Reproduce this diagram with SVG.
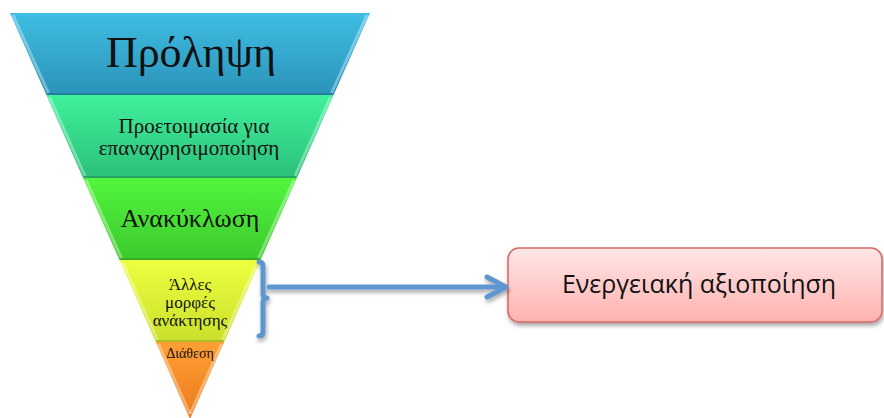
<svg xmlns="http://www.w3.org/2000/svg" width="884" height="418" viewBox="0 0 884 418">
<defs>
<linearGradient id="gBlue" x1="0" y1="0" x2="0" y2="1"><stop offset="0" stop-color="#3fbde3"/><stop offset="1" stop-color="#2b93b9"/></linearGradient>
<linearGradient id="gTeal" x1="0" y1="0" x2="0" y2="1"><stop offset="0" stop-color="#3ff09a"/><stop offset="1" stop-color="#2bc07a"/></linearGradient>
<linearGradient id="gGreen" x1="0" y1="0" x2="0" y2="1"><stop offset="0" stop-color="#52f53e"/><stop offset="1" stop-color="#3cc92c"/></linearGradient>
<linearGradient id="gYellow" x1="0" y1="0" x2="0" y2="1"><stop offset="0" stop-color="#eeff40"/><stop offset="1" stop-color="#c9df2a"/></linearGradient>
<linearGradient id="gOrange" x1="0" y1="0" x2="0" y2="1"><stop offset="0" stop-color="#ffa035"/><stop offset="1" stop-color="#ea7a1c"/></linearGradient>
<linearGradient id="gBox" x1="0" y1="0" x2="0" y2="1"><stop offset="0" stop-color="#ffe6e6"/><stop offset="1" stop-color="#ffb2b0"/></linearGradient>
<filter id="sh" filterUnits="userSpaceOnUse" x="0" y="0" width="884" height="418"><feGaussianBlur in="SourceAlpha" stdDeviation="2"/><feOffset dx="1" dy="3"/><feComponentTransfer><feFuncA type="linear" slope="0.35"/></feComponentTransfer><feMerge><feMergeNode/><feMergeNode in="SourceGraphic"/></feMerge></filter>
</defs>
<style>
.band{stroke:none}
.hl{fill:none;stroke:#ffffff;stroke-opacity:0.35;stroke-width:3}
.bot{stroke:#000;stroke-opacity:0.15;stroke-width:2}
.serif{font-family:"Liberation Serif","Times New Roman",serif;fill:#111;text-anchor:middle}
.conn{fill:none;stroke:#5f96cf;stroke-width:5;stroke-linecap:round;stroke-linejoin:round}
</style>
<rect width="884" height="418" fill="#ffffff"/>
<g id="n-prolipsi">
<polygon class="band" points="10,13 370,13 333.6,95 46.4,95" fill="url(#gBlue)"/>
<polyline class="hl" points="13,15 48.5,93"/><polyline class="hl" points="367,15 331.5,93"/>
<line class="bot" x1="47" y1="94" x2="333" y2="94"/>
<text class="serif" x="191" y="67" font-size="44">Πρόληψη</text>
</g>
<g id="n-proetoimasia">
<polygon class="band" points="46.4,95 333.6,95 296.9,178 83.1,178" fill="url(#gTeal)"/>
<polyline class="hl" points="49.5,97 85,176"/><polyline class="hl" points="330.5,97 295,176"/>
<line class="bot" x1="84" y1="177" x2="296" y2="177"/>
<text class="serif" x="194" y="133" font-size="21">Προετοιμασία για</text>
<text class="serif" x="189" y="155" font-size="21">επαναχρησιμοποίηση</text>
</g>
<g id="n-anakyklosi">
<polygon class="band" points="83.1,178 296.9,178 260.5,260 119.5,260" fill="url(#gGreen)"/>
<polyline class="hl" points="86,180 121.5,258"/><polyline class="hl" points="294,180 258.5,258"/>
<line class="bot" x1="120" y1="259" x2="260" y2="259"/>
<text class="serif" x="190" y="227" font-size="26">Ανακύκλωση</text>
</g>
<g id="n-alles">
<polygon class="band" points="119.5,260 260.5,260 224.2,342 155.8,342" fill="url(#gYellow)"/>
<polyline class="hl" points="122.5,262 157.5,340"/><polyline class="hl" points="257.5,262 222.5,340"/>
<line class="bot" x1="156" y1="341" x2="224" y2="341"/>
<text class="serif" x="190" y="290" font-size="17">Άλλες</text>
<text class="serif" x="190" y="308" font-size="17">μορφές</text>
<text class="serif" x="190" y="326" font-size="17">ανάκτησης</text>
</g>
<g id="n-diathesi">
<polygon class="band" points="155.8,342 224.2,342 190,419" fill="url(#gOrange)"/>
<polyline class="hl" points="158.5,344 190,414"/><polyline class="hl" points="221.5,344 190,414"/>
<text class="serif" x="190" y="358" font-size="14">Διάθεση</text>
</g>
<g id="n-energeiaki">
<rect x="508" y="248" width="374" height="74" rx="11" ry="11" fill="url(#gBox)" stroke="#d46a64" stroke-width="1.5" filter="url(#sh)"/>
<text x="699" y="293" font-family="'Open Sans','Liberation Sans',sans-serif" font-size="25" fill="#111" text-anchor="middle">Ενεργειακή αξιοποίηση</text>
</g>
<g id="connectors" filter="url(#sh)">
<path class="conn" d="M259,262 Q263,262 263,266 L263,294 Q263,298 267,298 Q263,298 263,302 L263,332 Q263,336 259,336"/>
<path class="conn" d="M269,287 L506,287"/>
<path class="conn" d="M487,277 L506,287 L487,297"/>
</g>
</svg>
